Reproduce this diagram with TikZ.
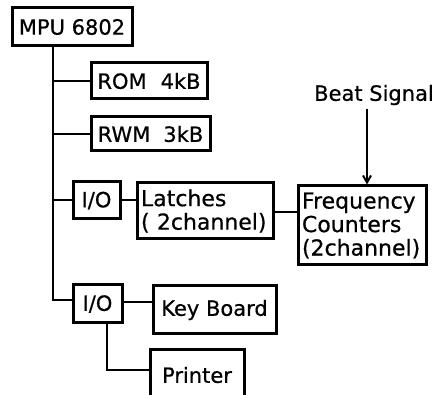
\documentclass[tikz,border=0pt]{standalone}
\usepackage{fontspec}
\setmainfont{DejaVu Sans}[FakeBold=0.6]
\usetikzlibrary{arrows.meta,positioning}

\begin{document}
\begin{tikzpicture}[x=1pt,y=-1pt,>={Straight Barb[length=7pt,width=8pt]},
  blk/.style={draw,line width=3pt,inner sep=0pt,font=\fontsize{21}{23}\selectfont},
  txtblk/.style={blk,align=left,inner xsep=4pt,font=\fontsize{22}{23.5}\selectfont},
  wire/.style={line width=2pt}]
  \useasboundingbox (0,0) rectangle (442,395);
  \clip (0,0) rectangle (442,395);

  % processor and memory
  \node[blk,minimum width=120pt,minimum height=38pt] (mpu) at (72,27) {MPU 6802};
  \node[blk,minimum width=116pt,minimum height=36pt] (rom) at (149,81) {ROM\hspace{14pt}4kB};
  \node[blk,minimum width=119pt,minimum height=34pt] (rwm) at (150.5,134) {RWM\hspace{13pt}3kB};

  % counter channel
  \node[blk,minimum width=47pt,minimum height=37pt] (io1) at (96.5,200.5) {I/O};
  \node[txtblk,text width=128pt,minimum height=56pt] (latch) at (205,211) {Latches\\( 2channel)};
  \node[txtblk,text width=120pt,minimum height=79pt] (freq) at (362,225.5) {Frequency\\Counters\\(2channel)};
  \node[font=\fontsize{21}{23}\selectfont] (beat) at (374,95) {Beat Signal};

  % keyboard and printer
  \node[blk,minimum width=49pt,minimum height=38pt] (io2) at (97.5,304) {I/O};
  \node[blk,minimum width=123pt,minimum height=48pt] (kb) at (214.5,310) {Key Board};
  \node[blk,minimum width=94pt,minimum height=50pt] (printer) at (197,375) {Printer};

  \coordinate (busend) at (53,300);

  \draw[wire] (mpu.south -| busend) -- (busend) -- (busend -| io2.west);
  \draw[wire] (rom.west -| busend) -- (rom.west);
  \draw[wire] (rwm.west -| busend) -- (rwm.west);
  \draw[wire] (io1.west -| busend) -- (io1.west);
  \draw[wire] (io1.east) -- (io1.east -| latch.west);
  \draw[wire] ([yshift=-1pt]latch.west -| latch.east) -- ([yshift=-1pt]latch.west -| freq.west);
  \draw[wire] ([yshift=2pt]io2.east) -- ([yshift=2pt]io2.east -| kb.west);
  \draw[wire] ([xshift=9.5pt]io2.south) |- ([yshift=5pt]printer.west);
  \draw[wire,->] ([xshift=-7pt]beat.south) -- ([xshift=-7pt]beat.south |- freq.north);
\end{tikzpicture}
\end{document}
